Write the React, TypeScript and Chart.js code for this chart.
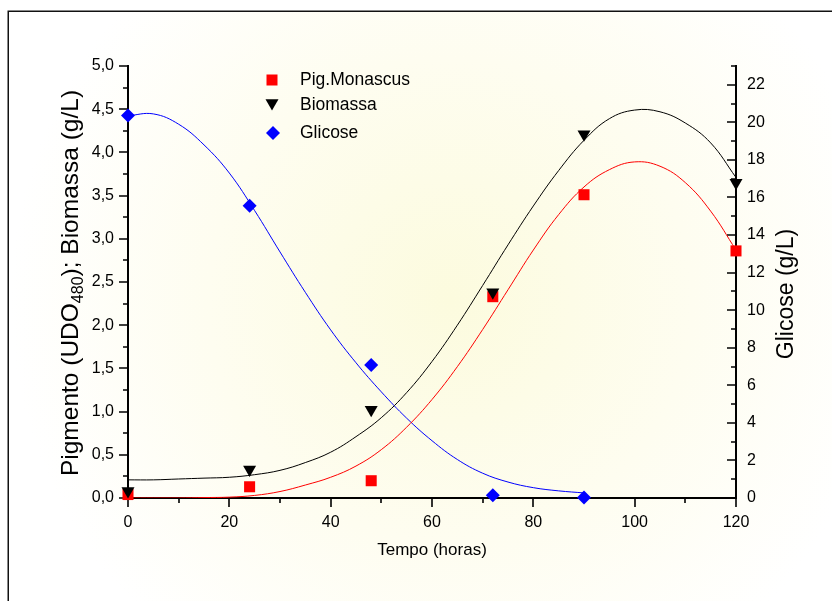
import React, { useEffect, useRef } from 'react';
import { Chart, registerables } from 'chart.js';

Chart.register(...registerables);

// ---- measured samples ----
const sampleTimes = [0, 24, 48, 72, 90, 120];
const pigmentoPoints = [0.04, 0.13, 0.2, 2.33, 3.51, 2.86];
const biomassaPoints = [0.08, 0.33, 1.02, 2.38, 4.21, 3.65];
const glicoseTimes = [0, 24, 48, 72, 90];
const glicosePoints = [20.36, 15.56, 7.08, 0.15, 0.03];

// ---- fitted curves ----
const fitTimes = [0, 5, 10, 15, 20, 25, 30, 35, 40, 45, 50, 55, 60, 65, 70, 75, 80, 85, 90, 95, 100, 105, 110, 115, 120];
const pigmentoFit = [0, 0, 0, 0.005, 0.01, 0.03, 0.075, 0.15, 0.24, 0.37, 0.56, 0.82, 1.14, 1.52, 1.95, 2.41, 2.87, 3.28, 3.6, 3.8, 3.89, 3.84, 3.65, 3.32, 2.87];
const biomassaFit = [0.21, 0.21, 0.22, 0.23, 0.24, 0.27, 0.32, 0.41, 0.53, 0.71, 0.93, 1.22, 1.58, 2.0, 2.46, 2.93, 3.38, 3.79, 4.14, 4.39, 4.49, 4.47, 4.34, 4.11, 3.71];
const glicoseFitTimes = [0, 5, 10, 15, 20, 25, 30, 35, 40, 45, 50, 55, 60, 65, 70, 75, 80, 85, 90];
const glicoseFit = [20.35, 20.45, 19.9, 18.8, 17.3, 15.3, 13.1, 10.95, 8.95, 7.2, 5.65, 4.25, 3.05, 2.05, 1.32, 0.85, 0.55, 0.38, 0.27];

// ---- ticks ----
const xTicks = [0, 20, 40, 60, 80, 100, 120];
const xMinorTicks = [10, 30, 50, 70, 90, 110];
const leftTicks = [0, 0.5, 1, 1.5, 2, 2.5, 3, 3.5, 4, 4.5, 5];
const leftMinorTicks = [0.25, 0.75, 1.25, 1.75, 2.25, 2.75, 3.25, 3.75, 4.25, 4.75];
const rightTicks = [0, 2, 4, 6, 8, 10, 12, 14, 16, 18, 20, 22];
const rightMinorTicks = [1, 3, 5, 7, 9, 11, 13, 15, 17, 19, 21, 23];

const legendLabels = ['Pig.Monascus', 'Biomassa', 'Glicose'];
const xTitle = 'Tempo (horas)';
const rightTitle = 'Glicose (g/L)';

const FONT = '"Liberation Sans", Arial, Helvetica, sans-serif';
const RED = '#ff0000';
const BLUE = '#0000ff';
const BLACK = '#000000';

function drawSquare(ctx: CanvasRenderingContext2D, cx: number, cy: number, half: number, color: string) {
  ctx.fillStyle = color;
  ctx.fillRect(cx - half, cy - half, half * 2, half * 2);
}
function drawTriDown(ctx: CanvasRenderingContext2D, cx: number, cy: number, r: number, color: string) {
  ctx.fillStyle = color;
  ctx.beginPath();
  const s = Math.sin(Math.PI / 3) * r;
  ctx.moveTo(cx, cy + r);
  ctx.lineTo(cx - s, cy - r / 2);
  ctx.lineTo(cx + s, cy - r / 2);
  ctx.closePath();
  ctx.fill();
}
function drawDiamond(ctx: CanvasRenderingContext2D, cx: number, cy: number, r: number, color: string) {
  ctx.fillStyle = color;
  ctx.beginPath();
  ctx.moveTo(cx, cy - r);
  ctx.lineTo(cx + r, cy);
  ctx.lineTo(cx, cy + r);
  ctx.lineTo(cx - r, cy);
  ctx.closePath();
  ctx.fill();
}

const decorPlugin = {
  id: 'decor',
  beforeDraw(chart: any) {
    const { ctx, width, height } = chart;
    ctx.save();
    ctx.fillStyle = '#ffffff';
    ctx.fillRect(0, 0, width, height);
    const g = ctx.createRadialGradient(450, 300, 0, 450, 300, 440);
    g.addColorStop(0, 'rgb(252,251,222)');
    g.addColorStop(0.55, 'rgb(254,253,240)');
    g.addColorStop(1, 'rgb(255,255,255)');
    ctx.fillStyle = g;
    ctx.fillRect(9, 12, width - 9, height - 12);
    ctx.strokeStyle = '#111';
    ctx.lineWidth = 1.5;
    ctx.beginPath();
    ctx.moveTo(8.25, height);
    ctx.lineTo(8.25, 11.25);
    ctx.lineTo(width, 11.25);
    ctx.stroke();
    ctx.restore();
  },
  beforeDatasetsDraw(chart: any) {
    const { ctx, chartArea } = chart;
    const xs = chart.scales.x;
    const yl = chart.scales.y;
    const yr = chart.scales.y2;
    ctx.save();
    ctx.strokeStyle = '#000';
    ctx.lineWidth = 1.6;
    ctx.beginPath();
    const major = 9;
    const minor = 5;
    xTicks.forEach((v) => {
      const px = Math.round(xs.getPixelForValue(v));
      ctx.moveTo(px, chartArea.bottom);
      ctx.lineTo(px, chartArea.bottom + major);
    });
    xMinorTicks.forEach((v) => {
      const px = Math.round(xs.getPixelForValue(v));
      ctx.moveTo(px, chartArea.bottom);
      ctx.lineTo(px, chartArea.bottom + minor);
    });
    leftTicks.forEach((v) => {
      const py = Math.round(yl.getPixelForValue(v));
      ctx.moveTo(chartArea.left - major, py);
      ctx.lineTo(chartArea.left, py);
    });
    leftMinorTicks.forEach((v) => {
      const py = Math.round(yl.getPixelForValue(v));
      ctx.moveTo(chartArea.left - minor, py);
      ctx.lineTo(chartArea.left, py);
    });
    rightTicks.forEach((v) => {
      const py = Math.round(yr.getPixelForValue(v));
      ctx.moveTo(chartArea.right - major, py);
      ctx.lineTo(chartArea.right, py);
    });
    rightMinorTicks.forEach((v) => {
      const py = Math.round(yr.getPixelForValue(v));
      ctx.moveTo(chartArea.right - minor, py);
      ctx.lineTo(chartArea.right, py);
    });
    ctx.stroke();
    ctx.restore();
  },
  afterDraw(chart: any) {
    const { ctx, chartArea } = chart;
    ctx.save();
    ctx.fillStyle = '#000';
    // legend
    const lx = 272;
    const ly = [80, 105, 133];
    drawSquare(ctx, lx, ly[0], 5.5, RED);
    drawTriDown(ctx, lx, ly[1] - 2, 7.5, BLACK);
    drawDiamond(ctx, lx + 1, ly[2], 7, BLUE);
    ctx.fillStyle = '#000';
    ctx.font = `17.5px ${FONT}`;
    ctx.textAlign = 'left';
    ctx.textBaseline = 'middle';
    legendLabels.forEach((t, i) => ctx.fillText(t, 300, ly[i]));

    // x title
    ctx.font = `17px ${FONT}`;
    ctx.textAlign = 'center';
    ctx.textBaseline = 'middle';
    ctx.fillText(xTitle, (chartArea.left + chartArea.right) / 2, 550);

    // left title with subscript
    const big = 24.5;
    const small = 16;
    const parts: [string, number, number][] = [
      ['Pigmento (UDO', big, 0],
      ['480', small, 5],
      ['); Biomassa (g/L)', big, 0],
    ];
    let total = 0;
    parts.forEach(([t, s]) => {
      ctx.font = `${s}px ${FONT}`;
      total += ctx.measureText(t).width;
    });
    ctx.save();
    ctx.translate(78, 283);
    ctx.rotate(-Math.PI / 2);
    ctx.textAlign = 'left';
    ctx.textBaseline = 'alphabetic';
    let cx = -total / 2;
    parts.forEach(([t, s, dy]) => {
      ctx.font = `${s}px ${FONT}`;
      ctx.fillText(t, cx, dy);
      cx += ctx.measureText(t).width;
    });
    ctx.restore();

    // right title
    ctx.save();
    ctx.translate(793, 294);
    ctx.rotate(-Math.PI / 2);
    ctx.font = `23px ${FONT}`;
    ctx.textAlign = 'center';
    ctx.textBaseline = 'alphabetic';
    ctx.fillText(rightTitle, 0, 0);
    ctx.restore();
    ctx.restore();
  },
};

export default function App() {
  const ref = useRef<HTMLCanvasElement>(null);
  useEffect(() => {
    const canvas = ref.current;
    if (!canvas) return;
    const tickFont = { family: FONT, size: 16 };
    const lineBase = {
      showLine: true,
      pointRadius: 0,
      borderWidth: 1,
      tension: 0.4,
      fill: false,
    };
    const chart = new Chart(canvas, {
      type: 'scatter',
      data: {
        datasets: [
          {
            label: legendLabels[1],
            data: sampleTimes.map((t, i) => ({ x: t, y: biomassaPoints[i] })),
            yAxisID: 'y',
            showLine: false,
            pointStyle: 'triangle',
            rotation: 180,
            pointRadius: 7.5,
            pointHoverRadius: 7.5,
            backgroundColor: BLACK,
            borderColor: BLACK,
            borderWidth: 0,
            clip: false,
          } as any,
          {
            label: legendLabels[0],
            data: sampleTimes.map((t, i) => ({ x: t, y: pigmentoPoints[i] })),
            yAxisID: 'y',
            showLine: false,
            pointStyle: 'rect',
            pointRadius: 7.8,
            pointHoverRadius: 7.8,
            backgroundColor: RED,
            borderColor: RED,
            borderWidth: 0,
            clip: false,
          } as any,
          {
            label: legendLabels[2],
            data: glicoseTimes.map((t, i) => ({ x: t, y: glicosePoints[i] })),
            yAxisID: 'y2',
            showLine: false,
            pointStyle: 'rectRot',
            pointRadius: 7,
            pointHoverRadius: 7,
            backgroundColor: BLUE,
            borderColor: BLUE,
            borderWidth: 0,
            clip: false,
          } as any,
          {
            ...lineBase,
            label: 'fit-bio',
            data: fitTimes.map((t, i) => ({ x: t, y: biomassaFit[i] })),
            yAxisID: 'y',
            borderColor: BLACK,
          } as any,
          {
            ...lineBase,
            label: 'fit-pig',
            data: fitTimes.map((t, i) => ({ x: t, y: pigmentoFit[i] })),
            yAxisID: 'y',
            borderColor: RED,
          } as any,
          {
            ...lineBase,
            label: 'fit-gli',
            data: glicoseFitTimes.map((t, i) => ({ x: t, y: glicoseFit[i] })),
            yAxisID: 'y2',
            borderColor: BLUE,
          } as any,
        ],
      },
      options: {
        animation: false,
        responsive: false,
        devicePixelRatio: 1,
        layout: { padding: { top: 66, left: 0, right: 0, bottom: 0 } },
        plugins: {
          legend: { display: false },
          tooltip: { enabled: false },
          title: { display: false },
        },
        events: [],
        scales: {
          x: {
            type: 'linear',
            position: 'bottom',
            min: 0,
            max: 120,
            grid: { display: false, drawTicks: false },
            border: { display: true, color: '#000', width: 2 },
            ticks: { color: '#000', font: tickFont, padding: 15, maxRotation: 0 },
            afterBuildTicks: (s: any) => {
              s.ticks = xTicks.map((v) => ({ value: v }));
            },
            afterFit: (s: any) => {
              s.height = 103;
            },
          },
          y: {
            type: 'linear',
            position: 'left',
            min: 0,
            max: 5,
            grid: { display: false, drawTicks: false },
            border: { display: true, color: '#000', width: 2 },
            ticks: {
              color: '#000',
              font: tickFont,
              padding: 14,
              callback: (v: any) => Number(v).toFixed(1).replace('.', ','),
            },
            afterBuildTicks: (s: any) => {
              s.ticks = leftTicks.map((v) => ({ value: v }));
            },
            afterFit: (s: any) => {
              s.width = 128;
            },
          },
          y2: {
            type: 'linear',
            position: 'right',
            min: 0,
            max: 23,
            grid: { display: false, drawTicks: false },
            border: { display: true, color: '#000', width: 2 },
            ticks: { color: '#000', font: tickFont, padding: 11 },
            afterBuildTicks: (s: any) => {
              s.ticks = rightTicks.map((v) => ({ value: v }));
            },
            afterFit: (s: any) => {
              s.width = 96;
            },
          },
        },
      } as any,
      plugins: [decorPlugin],
    });
    return () => chart.destroy();
  }, []);
  return (
    <div style={{ position: 'absolute', left: 0, top: 0, width: 832, height: 601 }}>
      <canvas ref={ref} width={832} height={601} style={{ display: 'block', width: 832, height: 601 }} />
    </div>
  );
}
